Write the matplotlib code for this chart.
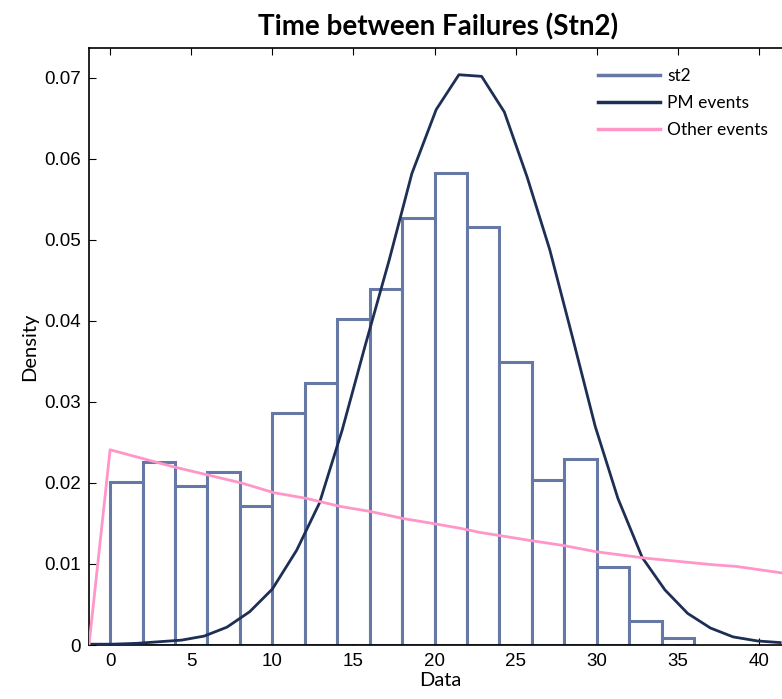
import matplotlib
matplotlib.use("Agg")
import matplotlib.pyplot as plt
from matplotlib.lines import Line2D

# histogram of st2 (bin width 2, starting at 0)
bin_left = [0, 2, 4, 6, 8, 10, 12, 14, 16, 18, 20, 22, 24, 26, 28, 30, 32, 34]
st2_density = [0.0201, 0.0226, 0.0196, 0.0214, 0.0172, 0.0286, 0.0323, 0.0402, 0.0440,
               0.0527, 0.0583, 0.0516, 0.0349, 0.0204, 0.0230, 0.0096, 0.0030, 0.0009]

# fitted PM events curve
pm_x = [-1.3, 0.1, 1.6, 3.0, 4.4, 5.8, 7.2, 8.6, 10.0, 11.5, 12.9, 14.3, 15.7, 17.2, 18.6,
        20.1, 21.5, 22.9, 24.3, 25.7, 27.1, 28.5, 29.9, 31.3, 32.8, 34.2, 35.6, 37.0, 38.4,
        39.9, 41.3]
pm_y = [0.0001, 0.0001, 0.0002, 0.0004, 0.0006, 0.0011, 0.0022, 0.0041, 0.0069, 0.0117,
        0.0175, 0.0265, 0.0368, 0.0475, 0.0582, 0.0661, 0.0704, 0.0702, 0.0658, 0.0578,
        0.0488, 0.0380, 0.0270, 0.0181, 0.0108, 0.0068, 0.0039, 0.0021, 0.0010, 0.0005,
        0.0003]

# other events curve
oth_x = [-1.3, 0.0, 3.9, 6.0, 8.1, 10.1, 12.1, 14.2, 16.0, 18.1, 19.9, 21.6, 22.8, 25.9,
         27.9, 30.0, 33.1, 37.2, 38.6, 41.4]
oth_y = [0.0, 0.0241, 0.0220, 0.0210, 0.0200, 0.0188, 0.0181, 0.0171, 0.0165, 0.0156,
         0.0150, 0.0144, 0.0139, 0.0129, 0.0123, 0.0115, 0.0107, 0.0099, 0.0097, 0.0089]

bar_col = "#6679A6"
pm_col = "#1E2F55"
oth_col = "#FF96C8"

fig = plt.figure(figsize=(7.82, 6.99), dpi=100)
ax = fig.add_axes([89 / 782, 54 / 699, (791.5 - 89) / 782, 597 / 699])

ax.bar(bin_left, st2_density, width=2, align="edge", facecolor="white",
       edgecolor=bar_col, linewidth=2.2, zorder=2)
ax.plot(pm_x, pm_y, color=pm_col, linewidth=2.0, zorder=3)
ax.plot(oth_x, oth_y, color=oth_col, linewidth=2.0, zorder=4)

ax.set_xlim(-1.3, 42)
ax.set_ylim(0, 0.0737)
ax.set_xticks(range(0, 45, 5))
ax.set_yticks([0, 0.01, 0.02, 0.03, 0.04, 0.05, 0.06, 0.07])
ax.set_yticklabels(["0", "0.01", "0.02", "0.03", "0.04", "0.05", "0.06", "0.07"])
ax.tick_params(direction="in", length=5, width=0.8, top=True, right=False,
               labelsize=13.5, pad=6)
for lbl in ax.get_xticklabels() + ax.get_yticklabels():
    lbl.set_fontfamily("Liberation Sans")
ax.spines["right"].set_visible(False)
for s in ["left", "bottom", "top"]:
    ax.spines[s].set_linewidth(1.2)

ax.set_xlabel("Data", fontsize=14.5, family="Lato", labelpad=1)
ax.set_ylabel("Density", fontsize=14.5, family="Lato", labelpad=4)
ax.set_title("Time between Failures (Stn2)", fontsize=20, family="Lato",
             fontweight="bold", pad=9, x=(438 - 89) / (791.5 - 89))

handles = [Line2D([], [], color=bar_col, linewidth=2.5),
           Line2D([], [], color=pm_col, linewidth=2.5),
           Line2D([], [], color=oth_col, linewidth=2.5)]
ax.legend(handles, ["st2", "PM events", "Other events"], loc="upper left",
          bbox_to_anchor=((582 - 89) / (791.5 - 89), 0.992), frameon=False,
          prop={"family": "Lato", "size": 12.5}, handlelength=3.6,
          handletextpad=0.4, labelspacing=0.62)

fig.savefig("out.png", dpi=100)
